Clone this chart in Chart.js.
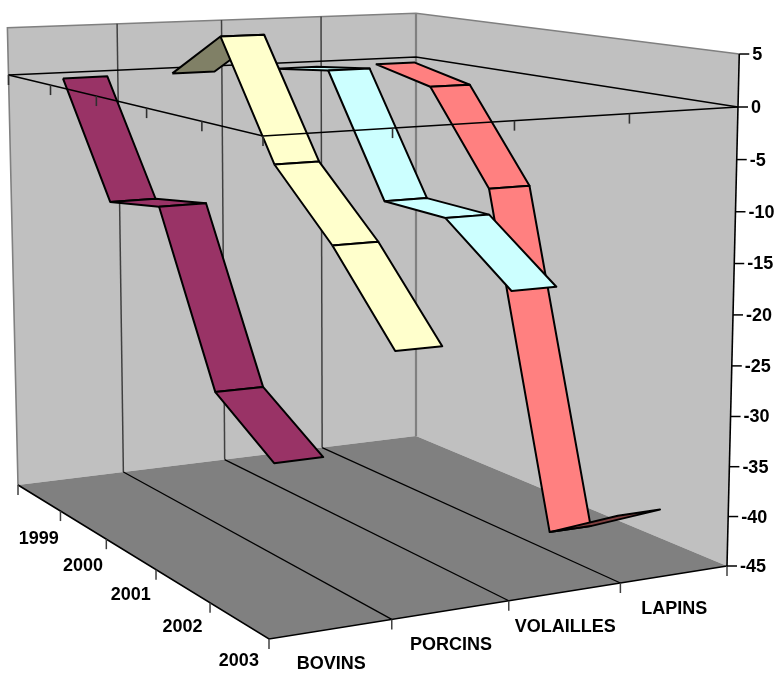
<!DOCTYPE html>
<html>
<head>
<meta charset="utf-8">
<style>html,body{margin:0;padding:0;background:#fff}canvas{display:block}</style>
<script src="https://cdn.jsdelivr.net/npm/chart.js@4"></script>
</head>
<body>
<canvas id="c" width="778" height="673"></canvas>
<script>
const categories = ['BOVINS', 'PORCINS', 'VOLAILLES', 'LAPINS'];
const years = ['1999', '2000', '2001', '2002', '2003'];
const valueTicks = [5, 0, -5, -10, -15, -20, -25, -30, -35, -40, -45];
const bovins = [0, -11.5, -10.4, -26.5, -30.7];
const porcins = [0, 4.8, -7.0, -13.4, -21.5];
const volailles = [0, 0.8, -11.5, -11.6, -16.9];
const lapins = [0, -1.45, -11.0, -45, -40.3];
const seriesColors = [[153, 51, 102], [255, 255, 204], [204, 255, 255], [255, 128, 128]];

// Chart box geometry: corners of the floor and of the value-0 plane (left, back, right, front)
const floorQuad = [[18, 485], [416, 436], [727, 566], [269, 639]];
const zeroQuad = [[8.5, 75], [416, 57], [738, 107], [263, 136]];
const valMin = -45, valMax = 5, persp = 0.035, ribbonHalf = 0.05;

function homography(q) {
  const [[x0, y0], [x1, y1], [x2, y2], [x3, y3]] = q;
  const dx1 = x1 - x2, dx2 = x3 - x2, sx = x0 - x1 + x2 - x3;
  const dy1 = y1 - y2, dy2 = y3 - y2, sy = y0 - y1 + y2 - y3;
  const den = dx1 * dy2 - dx2 * dy1;
  const g = (sx * dy2 - dx2 * sy) / den, h = (dx1 * sy - sx * dy1) / den;
  const a = x1 - x0 + g * x1, b = x3 - x0 + h * x3, d = y1 - y0 + g * y1, e = y3 - y0 + h * y3;
  return (u, v) => {
    const w = 1 + g * u + h * v;
    return [(a * u + b * v + x0) / w, (d * u + e * v + y0) / w];
  };
}
const floorH = homography(floorQuad), zeroH = homography(zeroQuad);
// u: across categories (0..1), v: across years (0..1), val: data value
function project(u, v, val) {
  const t = (val - valMin) / (0 - valMin);
  const tp = t / (1 + persp * (1 - t));
  const f = floorH(u, v), z = zeroH(u, v);
  return { x: f[0] + (z[0] - f[0]) * tp, y: f[1] + (z[1] - f[1]) * tp };
}

const allSeries = [bovins, porcins, volailles, lapins];
const datasets = [];
// painted from the far series to the near one, far year to near year
for (let s = categories.length - 1; s >= 0; s--) {
  const uc = (s + 0.5) / categories.length, vals = allSeries[s];
  for (let i = 0; i < years.length - 1; i++) {
    const v1 = (i + 0.5) / years.length, v2 = (i + 1.5) / years.length;
    const l1 = project(uc - ribbonHalf, v1, vals[i]), r1 = project(uc + ribbonHalf, v1, vals[i]);
    const l2 = project(uc - ribbonHalf, v2, vals[i + 1]), r2 = project(uc + ribbonHalf, v2, vals[i + 1]);
    const cross = (r1.x - l1.x) * (l2.y - l1.y) - (r1.y - l1.y) * (l2.x - l1.x);
    const c = seriesColors[s], k = cross < 0 ? 0.5 : 1;
    datasets.push({
      label: categories[s] + ' ' + years[i] + '-' + years[i + 1],
      data: [l1, r1, r2, l2, l1],
      showLine: true, tension: 0, pointRadius: 0, fill: false, clip: false,
      borderColor: '#000', borderWidth: 2, borderJoinStyle: 'round',
      faceColor: `rgb(${Math.round(c[0] * k)},${Math.round(c[1] * k)},${Math.round(c[2] * k)})`
    });
  }
}
datasets.forEach((d, i) => { d.order = -i; });

const box = {
  id: 'box3d',
  beforeDatasetDraw(chart, args) {
    const pts = chart.getDatasetMeta(args.index).data, ctx = chart.ctx;
    ctx.save();
    ctx.beginPath();
    pts.forEach((p, i) => i ? ctx.lineTo(p.x, p.y) : ctx.moveTo(p.x, p.y));
    ctx.closePath();
    ctx.fillStyle = chart.data.datasets[args.index].faceColor;
    ctx.fill();
    ctx.restore();
  },
  beforeDatasetsDraw(chart) {
    const ctx = chart.ctx, X = chart.scales.x, Y = chart.scales.y;
    const P = (u, v, val) => { const p = project(u, v, val); return [X.getPixelForValue(p.x), Y.getPixelForValue(p.y)]; };
    const poly = (pts, fill) => { ctx.beginPath(); pts.forEach((p, i) => i ? ctx.lineTo(p[0], p[1]) : ctx.moveTo(p[0], p[1])); ctx.closePath(); ctx.fillStyle = fill; ctx.fill(); };
    const line = (pts, col, w) => { ctx.beginPath(); pts.forEach((p, i) => i ? ctx.lineTo(p[0], p[1]) : ctx.moveTo(p[0], p[1])); ctx.strokeStyle = col; ctx.lineWidth = w; ctx.stroke(); };
    ctx.save();
    poly([P(0, 0, valMin), P(1, 0, valMin), P(1, 0, valMax), P(0, 0, valMax)], '#C0C0C0');
    poly([P(1, 0, valMin), P(1, 1, valMin), P(1, 1, valMax), P(1, 0, valMax)], '#C0C0C0');
    poly([P(0, 0, valMin), P(1, 0, valMin), P(1, 1, valMin), P(0, 1, valMin)], '#808080');
    line([P(0, 0, valMin), P(0, 0, valMax), P(1, 0, valMax), P(1, 1, valMax)], '#808080', 1.6);
    line([P(1, 0, valMin), P(1, 0, valMax)], '#808080', 2.2);
    for (let i = 1; i < categories.length; i++) {
      const u = i / categories.length;
      line([P(u, 0, valMin), P(u, 0, valMax)], '#404040', 1.5);
      line([P(u, 0, valMin), P(u, 1, valMin)], '#000', 1.3);
    }
    line([P(0, 0, 0), P(1, 0, 0), P(1, 1, 0)], '#000', 1.3);
    ctx.restore();
  },
  afterDatasetsDraw(chart) {
    const ctx = chart.ctx, X = chart.scales.x, Y = chart.scales.y;
    const P = (u, v, val) => { const p = project(u, v, val); return [X.getPixelForValue(p.x), Y.getPixelForValue(p.y)]; };
    const line = (pts, col, w) => { ctx.beginPath(); pts.forEach((p, i) => i ? ctx.lineTo(p[0], p[1]) : ctx.moveTo(p[0], p[1])); ctx.strokeStyle = col; ctx.lineWidth = w; ctx.stroke(); };
    const tick = (p, dx, dy, col, w) => line([p, [p[0] + dx, p[1] + dy]], col, w);
    ctx.save();
    // axis lines on the value-0 plane, in front of the ribbons
    line([P(0, 0, 0), P(0, 1, 0), P(1, 1, 0)], '#000', 1.5);
    for (let i = 0; i < years.length; i++) tick(P(0, i / years.length, 0), 0, 10, '#303030', 1.6);
    for (let i = 0; i <= categories.length - 1; i++) tick(P(i / categories.length, 1, 0), 0, 10, '#303030', 1.6);
    // floor axes
    line([P(0, 0, valMin), P(0, 1, valMin), P(1, 1, valMin)], '#000', 1.6);
    line([P(1, 1, valMin), P(1, 1, valMax)], '#000', 1.6);
    for (let i = 0; i <= years.length; i++) tick(P(0, i / years.length, valMin), 0, 10, '#404040', 1.5);
    for (let i = 1; i <= categories.length; i++) tick(P(i / categories.length, 1, valMin), 0, 10, '#404040', 1.5);
    ctx.fillStyle = '#000';
    ctx.font = 'bold 18px "Liberation Sans", Arial, sans-serif';
    ctx.textBaseline = 'middle';
    ctx.textAlign = 'center';
    years.forEach((t, i) => { const p = P(0, (i + 0.5) / years.length, valMin); ctx.fillText(t, p[0], p[1] + 41); });
    categories.forEach((t, i) => { const p = P((i + 0.5) / categories.length, 1, valMin); ctx.fillText(t, p[0], p[1] + 35); });
    ctx.textAlign = 'left';
    valueTicks.forEach(t => {
      const p = P(1, 1, t);
      tick(p, 10, 0, '#000', 1.5);
      ctx.fillText(String(t), p[0] + 13, p[1] + 1);
    });
    ctx.restore();
  }
};

new Chart(document.getElementById('c'), {
  type: 'scatter',
  data: { datasets },
  plugins: [box],
  options: {
    responsive: false,
    animation: false,
    devicePixelRatio: 1,
    layout: { padding: 0 },
    plugins: { legend: { display: false }, tooltip: { enabled: false }, title: { display: false } },
    scales: {
      x: { type: 'linear', min: 0, max: 778, display: false },
      y: { type: 'linear', min: 0, max: 673, reverse: true, display: false }
    }
  }
});
</script>
</body>
</html>
